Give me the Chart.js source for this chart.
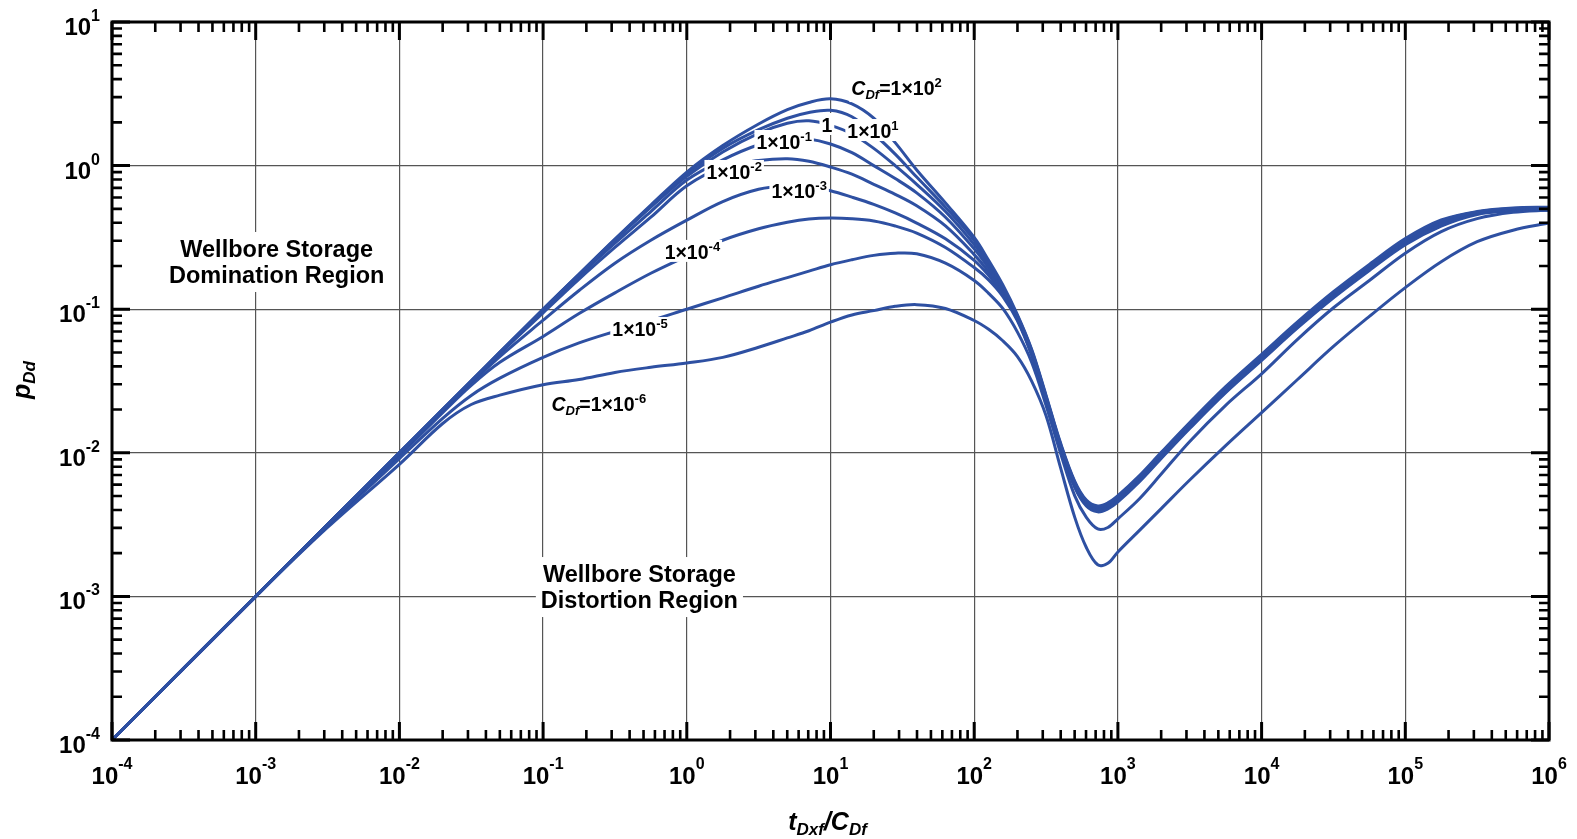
<!DOCTYPE html>
<html>
<head>
<meta charset="utf-8">
<title>Type curves p_Dd vs t_Dxf/C_Df</title>
<script src="https://cdn.jsdelivr.net/npm/chart.js@4.4.1/dist/chart.umd.min.js"></script>
<style>
  html, body { margin: 0; padding: 0; background: #ffffff; }
  canvas { display: block; }
</style>
</head>
<body>
<canvas id="typeCurves" width="1577" height="839"></canvas>
<script>
// Dimensionless time grid t_Dxf / C_Df shared by every curve
const tDxfOverCDf = [1e-4, 1e-3, 3.16e-3, 0.01, 0.02, 0.0316, 0.05, 0.1, 0.178, 0.316, 0.562, 1, 1.78, 3.16, 5.01, 7.08, 10, 14.1, 20, 28.2, 39.8, 63.1, 100, 126, 158, 200, 251, 316, 398, 501, 603, 724, 851, 1000, 1413, 1995, 3162, 5623, 1e4, 17783, 31623, 56234, 1e5, 177828, 316228, 562341, 1e6];

// Dimensionless pressure p_Dd for each fracture storage coefficient C_Df
const pDd_1e2 = [1e-4, 1e-3, 3.16e-3, 0.01, 0.02, 0.0316, 0.05, 0.1, 0.1758, 0.3076, 0.531, 0.902, 1.380, 1.950, 2.455, 2.754, 2.917, 2.692, 2.138, 1.445, 0.933, 0.550, 0.316, 0.219, 0.148, 0.0915, 0.0526, 0.0252, 0.01178, 0.00633, 0.00469, 0.00427, 0.00448, 0.00503, 0.00694, 0.01003, 0.01626, 0.0289, 0.0485, 0.0815, 0.1322, 0.205, 0.310, 0.418, 0.479, 0.507, 0.513];
const pDd_1e1 = [1e-4, 1e-3, 3.16e-3, 0.01, 0.02, 0.0316, 0.05, 0.1, 0.175, 0.3055, 0.525, 0.875, 1.318, 1.778, 2.138, 2.344, 2.427, 2.188, 1.660, 1.202, 0.832, 0.513, 0.302, 0.211, 0.143, 0.0900, 0.0518, 0.0248, 0.01159, 0.00623, 0.00462, 0.00420, 0.00441, 0.00495, 0.00683, 0.00987, 0.01600, 0.0284, 0.0477, 0.0802, 0.1301, 0.201, 0.305, 0.411, 0.475, 0.503, 0.509];
const pDd_1e0 = [1e-4, 1e-3, 3.16e-3, 0.01, 0.02, 0.0316, 0.05, 0.0993, 0.1738, 0.302, 0.513, 0.841, 1.245, 1.679, 1.972, 2.051, 1.905, 1.660, 1.318, 1.0, 0.741, 0.479, 0.282, 0.202, 0.139, 0.0885, 0.0509, 0.0244, 0.01140, 0.00613, 0.00454, 0.00414, 0.00434, 0.00487, 0.00672, 0.00970, 0.01574, 0.0279, 0.0469, 0.0788, 0.1279, 0.198, 0.300, 0.404, 0.472, 0.499, 0.505];
const pDd_1em1 = [1e-4, 1e-3, 3.16e-3, 0.01, 0.02, 0.0316, 0.0499, 0.0977, 0.170, 0.288, 0.479, 0.794, 1.096, 1.396, 1.542, 1.531, 1.413, 1.230, 1.0, 0.813, 0.646, 0.437, 0.263, 0.193, 0.135, 0.0871, 0.0501, 0.0240, 0.01122, 0.00603, 0.00447, 0.00407, 0.00427, 0.00479, 0.00661, 0.00955, 0.01549, 0.0275, 0.0462, 0.0776, 0.1259, 0.195, 0.295, 0.398, 0.468, 0.495, 0.501];
const pDd_1em2 = [1e-4, 1e-3, 3.16e-3, 0.01, 0.02, 0.0313, 0.0490, 0.0944, 0.162, 0.269, 0.437, 0.724, 0.977, 1.084, 1.117, 1.072, 0.977, 0.871, 0.741, 0.631, 0.525, 0.380, 0.240, 0.182, 0.131, 0.0857, 0.0493, 0.0236, 0.01104, 0.00593, 0.00440, 0.00400, 0.00420, 0.00471, 0.00650, 0.00940, 0.01524, 0.0271, 0.0455, 0.0764, 0.1239, 0.192, 0.290, 0.392, 0.464, 0.491, 0.497];
const pDd_1em3 = [1e-4, 1e-3, 3.16e-3, 0.00989, 0.01972, 0.0305, 0.0468, 0.0838, 0.135, 0.209, 0.302, 0.417, 0.562, 0.684, 0.724, 0.716, 0.668, 0.603, 0.537, 0.468, 0.398, 0.309, 0.219, 0.172, 0.127, 0.0843, 0.0485, 0.0232, 0.01086, 0.00584, 0.00433, 0.00394, 0.00413, 0.00464, 0.00640, 0.00924, 0.01499, 0.0266, 0.0447, 0.0751, 0.1219, 0.189, 0.286, 0.385, 0.461, 0.487, 0.493];
const pDd_1em4 = [1e-4, 1e-3, 3.15e-3, 0.00955, 0.01905, 0.0295, 0.0427, 0.0646, 0.0933, 0.130, 0.178, 0.234, 0.302, 0.363, 0.403, 0.425, 0.432, 0.427, 0.412, 0.380, 0.339, 0.269, 0.195, 0.160, 0.123, 0.0830, 0.0477, 0.0229, 0.01069, 0.00575, 0.00426, 0.00388, 0.00407, 0.00456, 0.00630, 0.00910, 0.01476, 0.0262, 0.0440, 0.0740, 0.1200, 0.186, 0.281, 0.379, 0.457, 0.483, 0.489];
const pDd_1em5 = [1e-4, 1e-3, 3.09e-3, 0.00912, 0.01738, 0.0251, 0.0331, 0.0462, 0.0582, 0.0700, 0.0832, 0.1, 0.120, 0.1445, 0.166, 0.184, 0.204, 0.221, 0.237, 0.2455, 0.243, 0.209, 0.1585, 0.129, 0.1012, 0.0692, 0.0427, 0.0214, 0.0100, 0.00501, 0.00355, 0.00295, 0.00302, 0.00347, 0.00479, 0.00708, 0.0120, 0.0214, 0.0355, 0.0617, 0.1023, 0.1585, 0.2455, 0.347, 0.427, 0.473, 0.490];
const pDd_1em6 = [1e-4, 1e-3, 3.02e-3, 0.00832, 0.01600, 0.0217, 0.0252, 0.0298, 0.0324, 0.0363, 0.0394, 0.0422, 0.0462, 0.0543, 0.0631, 0.0708, 0.0813, 0.0912, 0.0977, 0.1047, 0.1076, 0.1012, 0.0834, 0.0724, 0.0603, 0.0468, 0.0316, 0.0182, 0.00794, 0.00355, 0.00219, 0.00166, 0.00170, 0.00204, 0.00288, 0.00407, 0.00646, 0.01122, 0.01905, 0.0324, 0.0550, 0.0891, 0.1413, 0.214, 0.295, 0.355, 0.398];

// Decade exponents used for the tick labels
const xTickExponents = [-4, -3, -2, -1, 0, 1, 2, 3, 4, 5, 6];
const yTickExponents = [-4, -3, -2, -1, 0, 1];

// C_Df exponent of every curve, in the order of the series below
const cdfExponents = [2, 1, 0, -1, -2, -3, -4, -5, -6];
const curveSeries = [pDd_1e2, pDd_1e1, pDd_1e0, pDd_1em1, pDd_1em2, pDd_1em3, pDd_1em4, pDd_1em5, pDd_1em6];

// Curve labels: C_Df exponent and the (t, p) point where the label text starts
const curveLabels = [
  { exp: 2,  full: true, t: 13.97, p: 3.10 },
  { exp: 1,  t: 13.1,  p: 1.556 },
  { exp: 0,  t: 8.65,  p: 1.714 },
  { exp: -1, t: 3.05,  p: 1.305 },
  { exp: -2, t: 1.37,  p: 0.807 },
  { exp: -3, t: 3.88,  p: 0.595 },
  { exp: -4, t: 0.701, p: 0.224 },
  { exp: -5, t: 0.303, p: 0.0651 },
  { exp: -6, full: true, t: 0.1143, p: 0.01954 }
];

// Region notes: text lines, centre time and first-line pressure
const regionNotes = [
  { lines: ['Wellbore Storage', 'Domination Region'], t: 1.40e-3, p: 0.231 },
  { lines: ['Wellbore Storage', 'Distortion Region'], t: 0.468, p: 1.259e-3 }
];

const LINE_BLUE = '#2e50a2';
const FACE = '"Liberation Sans", Arial, Helvetica, sans-serif';

function drawRuns(ctx, runs, x, y, align) {
  let width = 0;
  runs.forEach(r => { ctx.font = r.font; r.w = ctx.measureText(r.text).width; width += r.w; });
  let cx = align === 'center' ? x - width / 2 : (align === 'right' ? x - width : x);
  ctx.textAlign = 'left';
  ctx.textBaseline = 'alphabetic';
  runs.forEach(r => {
    ctx.font = r.font;
    ctx.fillText(r.text, cx, y + (r.dy || 0));
    cx += r.w;
  });
  return width;
}

function measureRuns(ctx, runs) {
  let width = 0;
  runs.forEach(r => { ctx.font = r.font; width += ctx.measureText(r.text).width; });
  return width;
}

function powerRuns(exp, big, small, rise) {
  return [
    { text: '10', font: 'bold ' + big + 'px ' + FACE },
    { text: String(exp), font: 'bold ' + small + 'px ' + FACE, dy: -rise }
  ];
}

function curveLabelRuns(label) {
  const big = 'bold 19.5px ' + FACE;
  const small = 'bold 13px ' + FACE;
  const runs = [];
  if (label.full) {
    runs.push({ text: 'C', font: 'italic bold 19.5px ' + FACE });
    runs.push({ text: 'Df', font: 'italic bold 13px ' + FACE, dy: 4 });
    runs.push({ text: '=1\u00d710', font: big });
    runs.push({ text: String(label.exp), font: small, dy: -8 });
  } else if (label.exp === 0) {
    runs.push({ text: '1', font: big });
  } else {
    runs.push({ text: '1\u00d710', font: big });
    runs.push({ text: String(label.exp), font: small, dy: -8 });
  }
  return runs;
}

const decorations = {
  id: 'decorations',
  afterDatasetsDraw(chart) {
    const ctx = chart.ctx;
    const area = chart.chartArea;
    const xs = chart.scales.x;
    const ys = chart.scales.y;
    ctx.save();

    // region notes with white backing
    regionNotes.forEach(note => {
      const cx = xs.getPixelForValue(note.t);
      const y0 = ys.getPixelForValue(note.p);
      const font = 'bold 23.5px ' + FACE;
      ctx.font = font;
      const w = Math.max(...note.lines.map(l => ctx.measureText(l).width));
      const lineGap = 26;
      ctx.fillStyle = '#ffffff';
      ctx.fillRect(cx - w / 2 - 5, y0 - 25, w + 10, lineGap * (note.lines.length - 1) + 34);
      ctx.fillStyle = '#000000';
      note.lines.forEach((line, i) => drawRuns(ctx, [{ text: line, font }], cx, y0 + i * lineGap, 'center'));
    });

    // curve labels with white backing that interrupts the lines
    curveLabels.forEach(label => {
      const x = xs.getPixelForValue(label.t);
      const y = ys.getPixelForValue(label.p);
      const runs = curveLabelRuns(label);
      const w = measureRuns(ctx, runs);
      ctx.fillStyle = '#ffffff';
      ctx.fillRect(x - 2, y - 19, w + 4, label.full ? 26 : 22);
      ctx.fillStyle = '#000000';
      drawRuns(ctx, runs, x, y, 'left');
    });

    // frame
    ctx.strokeStyle = '#000000';
    ctx.lineWidth = 3;
    ctx.strokeRect(area.left, area.top, area.right - area.left, area.bottom - area.top);

    // inward ticks on all four sides
    const MAJOR = 18, MINOR = 10;
    ctx.lineCap = 'butt';
    xTickExponents.forEach((e, i) => {
      for (let k = 1; k <= 9; k++) {
        if (k > 1 && i === xTickExponents.length - 1) break;
        const v = k * Number('1e' + e);
        const px = xs.getPixelForValue(v);
        const len = k === 1 ? MAJOR : MINOR;
        ctx.lineWidth = k === 1 ? 3 : 2.6;
        ctx.beginPath();
        ctx.moveTo(px, area.bottom); ctx.lineTo(px, area.bottom - len);
        ctx.moveTo(px, area.top); ctx.lineTo(px, area.top + len);
        ctx.stroke();
      }
    });
    yTickExponents.forEach((e, i) => {
      for (let k = 1; k <= 9; k++) {
        if (k > 1 && i === yTickExponents.length - 1) break;
        const v = k * Number('1e' + e);
        const py = ys.getPixelForValue(v);
        const len = k === 1 ? MAJOR : MINOR;
        ctx.lineWidth = k === 1 ? 3 : 2.6;
        ctx.beginPath();
        ctx.moveTo(area.left, py); ctx.lineTo(area.left + len, py);
        ctx.moveTo(area.right, py); ctx.lineTo(area.right - len, py);
        ctx.stroke();
      }
    });

    // tick labels as powers of ten
    ctx.fillStyle = '#000000';
    xTickExponents.forEach(e => {
      const px = xs.getPixelForValue(Number('1e' + e));
      drawRuns(ctx, powerRuns(e, 24, 16, 15), px, area.bottom + 44, 'center');
    });
    yTickExponents.forEach(e => {
      const py = ys.getPixelForValue(Number('1e' + e));
      drawRuns(ctx, powerRuns(e, 24, 16, 14), area.left - 12, py + 13, 'right');
    });

    // axis titles
    const titleBig = 'italic bold 25px ' + FACE;
    const titleSmall = 'italic bold 17px ' + FACE;
    drawRuns(ctx, [
      { text: 't', font: titleBig },
      { text: 'Dxf', font: titleSmall, dy: 5 },
      { text: '/C', font: titleBig },
      { text: 'Df', font: titleSmall, dy: 5 }
    ], (area.left + area.right) / 2 - 3, 830, 'center');

    ctx.save();
    ctx.translate(30, (area.top + area.bottom) / 2 - 1);
    ctx.rotate(-Math.PI / 2);
    drawRuns(ctx, [
      { text: 'p', font: titleBig },
      { text: 'Dd', font: titleSmall, dy: 5 }
    ], 0, 0, 'center');
    ctx.restore();

    ctx.restore();
  }
};

const datasets = curveSeries.map((values, idx) => ({
  label: 'C_Df = 1e' + cdfExponents[idx],
  data: tDxfOverCDf.map((t, i) => ({ x: t, y: values[i] })),
  borderColor: LINE_BLUE,
  borderWidth: 3,
  pointRadius: 0,
  fill: false,
  tension: 0.35
}));

function decadeTicks(exps) {
  return exps.map(e => ({ value: Number('1e' + e) }));
}

new Chart(document.getElementById('typeCurves').getContext('2d'), {
  type: 'line',
  data: { datasets },
  options: {
    responsive: false,
    animation: false,
    devicePixelRatio: 1,
    layout: { padding: { left: 112, top: 22, right: 28, bottom: 99 } },
    plugins: { legend: { display: false }, tooltip: { enabled: false }, title: { display: false } },
    scales: {
      x: {
        type: 'logarithmic',
        min: 1e-4, max: 1e6,
        ticks: { display: false },
        grid: { color: '#555555', lineWidth: 1.2, drawTicks: false },
        border: { display: false },
        afterBuildTicks: s => { s.ticks = decadeTicks(xTickExponents); },
        afterFit: s => { s.height = 0; }
      },
      y: {
        type: 'logarithmic',
        min: 1e-4, max: 10,
        ticks: { display: false },
        grid: { color: '#555555', lineWidth: 1.2, drawTicks: false },
        border: { display: false },
        afterBuildTicks: s => { s.ticks = decadeTicks(yTickExponents); },
        afterFit: s => { s.width = 0; }
      }
    }
  },
  plugins: [decorations]
});
</script>
</body>
</html>
